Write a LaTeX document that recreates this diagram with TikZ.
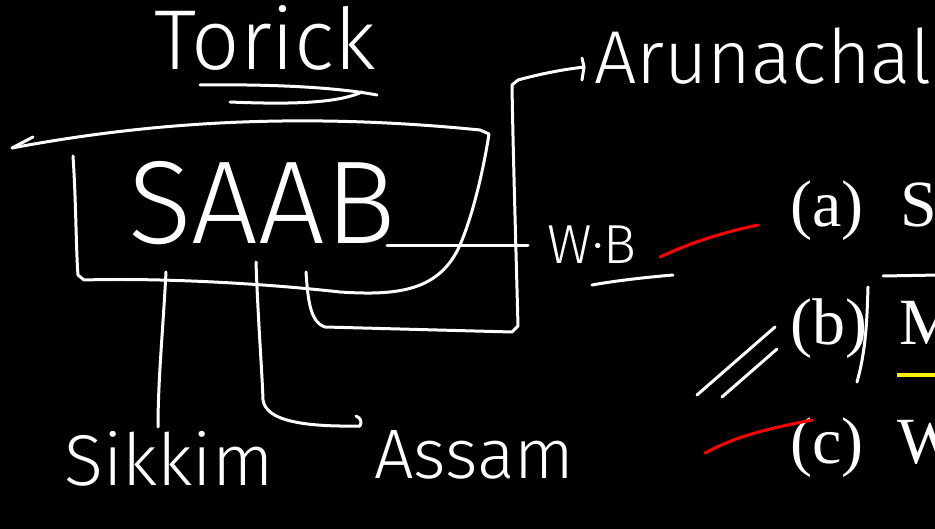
\documentclass[tikz,border=0pt]{standalone}
\usepackage{fontspec}
\setmainfont{Liberation Serif}
\newfontfamily\handfont{Fira Sans Light}
\usetikzlibrary{positioning}

\tikzset{
  ink/.style={white, line width=3pt, line cap=round, line join=round},
  redink/.style={ink, red},
  hand/.style={white, inner sep=0pt},
  printed/.style={white, inner sep=0pt, anchor=base west,
    font=\fontsize{66}{70}\selectfont},
}

\begin{document}
\begin{tikzpicture}[x=1pt, y=-1pt]
\fill[black] (0,0) rectangle (935,529);
\clip (0,0) rectangle (935,529);

% handwritten labels
\node[hand, font=\handfont\fontsize{85}{90}\selectfont] (torick) at (265,38) {Torick};
\node[hand, font=\handfont\fontsize{118}{120}\selectfont] (saab) at (262,203) {SAAB};
\node[hand, font=\handfont\fontsize{55}{60}\selectfont] (wb) at (592,245) {W·B};
\node[hand, anchor=base west, font=\handfont\fontsize{75}{80}\selectfont] (arunachal) at (594,84) {Arunachal};
\node[hand, anchor=base west, font=\handfont\fontsize{72}{80}\selectfont] (sikkim) at (64,485) {Sikkim};
\node[hand, anchor=base west, font=\handfont\fontsize{70}{80}\selectfont] (assam) at (374,478) {Assam};

% printed options
\node[printed] (opta) at (790,227) {(a)};
\node[printed] (lettera) at (900,227) {S};
\node[printed] (optb) at (790,345) {(b)};
\node[printed] (letterb) at (899,345) {M};
\node[printed] (optc) at (790,463) {(c)};
\node[printed] (letterc) at (897,463) {W};

% underlines of the title
\draw[ink] (200,85) .. controls (280,84) and (340,88) .. (377,95);
\draw[ink] (230,102) .. controls (300,105) and (340,102) .. (362,92);

% box round SAAB, top edge running off to the left
\coordinate (boxtl) at (73,156);
\coordinate (leftend) at (12,148);
\draw[ink] (boxtl) .. controls (76,200) and (76,250) .. (78,275) -- (84,280)
  .. controls (150,278) and (250,282) .. (340,292)
  .. controls (400,296) and (440,290) .. (460,245)
  .. controls (475,210) and (485,160) .. (489,134) -- (480,130)
  .. controls (300,112) and (150,122) .. (leftend);
\draw[ink] (leftend) -- (33,137);

% B to W.B
\coordinate (bout) at (387,246);
\draw[ink] (bout) -- (528,246);
\draw[ink] (592,285) .. controls (620,280) and (650,277) .. (673,275);

% loop up to Arunachal
\coordinate (aout) at (306,272);
\coordinate (arutip) at (584,67);
\draw[ink] (aout) .. controls (308,300) and (310,322) .. (325,327)
  -- (512,332) -- (518,326) .. controls (516,250) and (513,150) .. (512,85)
  -- (518,80) .. controls (540,74) and (560,70) .. (arutip);
\draw[ink] (582,58) -- (arutip) -- (582,80);

% down to Sikkim
\coordinate (sout) at (166,272);
\draw[ink] (sout) .. controls (163,330) and (158,380) .. (158,427);

% down and across to Assam
\coordinate (asout) at (256,262);
\coordinate (astip) at (360,426);
\draw[ink] (asout) .. controls (258,320) and (262,370) .. (263,400)
  .. controls (266,420) and (300,427) .. (astip);
\draw[ink] (356,416) .. controls (361,418) and (362,422) .. (astip);

% marks beside the options
\draw[redink] (660,257) .. controls (690,243) and (720,233) .. (758,225);
\draw[ink] (697,395) -- (775,327);
\draw[ink] (722,397) -- (777,349);
\draw[ink] (868,287) .. controls (867,320) and (866,350) .. (857,382);
\draw[ink] (883,276) -- (940,275);
\draw[yellow, line width=4pt] (897,375) -- (940,375);
\draw[redink] (705,453) .. controls (730,440) and (750,432) .. (812,420);
\end{tikzpicture}
\end{document}
